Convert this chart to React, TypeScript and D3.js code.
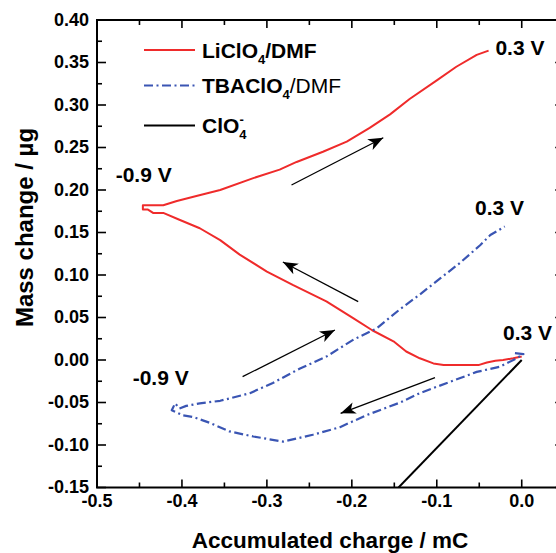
import React from 'react';
import * as d3 from 'd3';

// LiClO4/DMF (red) — charge (mC) and mass change (µg)
const redCharge = [0.000, -0.010, -0.022, -0.031, -0.041, -0.051, -0.092, -0.104, -0.120, -0.136, -0.151, -0.176, -0.198, -0.230, -0.269, -0.300, -0.332, -0.355, -0.379, -0.403, -0.422, -0.434, -0.440, -0.446, -0.446, -0.422, -0.406, -0.383, -0.355, -0.316, -0.285, -0.265, -0.234, -0.206, -0.179, -0.155, -0.132, -0.100, -0.077, -0.053, -0.039];
const redMass = [0.004, 0.002, 0.000, -0.001, -0.003, -0.006, -0.006, -0.004, 0.002, 0.010, 0.022, 0.035, 0.049, 0.069, 0.088, 0.104, 0.124, 0.141, 0.155, 0.165, 0.173, 0.173, 0.177, 0.177, 0.182, 0.182, 0.187, 0.193, 0.200, 0.214, 0.224, 0.233, 0.245, 0.257, 0.273, 0.289, 0.307, 0.329, 0.345, 0.359, 0.364];

// TBAClO4/DMF (blue dash-dot)
const blueCharge = [-0.008, 0.002, -0.008, -0.026, -0.053, -0.088, -0.120, -0.143, -0.183, -0.214, -0.246, -0.281, -0.316, -0.344, -0.367, -0.387, -0.399, -0.412, -0.408, -0.403, -0.395, -0.379, -0.355, -0.320, -0.293, -0.261, -0.230, -0.198, -0.171, -0.143, -0.120, -0.096, -0.073, -0.049, -0.037, -0.020];
const blueMass = [0.008, 0.007, 0.001, -0.008, -0.014, -0.027, -0.039, -0.050, -0.065, -0.079, -0.088, -0.096, -0.090, -0.084, -0.074, -0.067, -0.065, -0.059, -0.051, -0.057, -0.054, -0.051, -0.048, -0.039, -0.027, -0.010, 0.004, 0.024, 0.037, 0.060, 0.077, 0.096, 0.114, 0.135, 0.147, 0.157];

// ClO4- (black)
const clo4Charge = [0.0, -0.145];
const clo4Mass = [0.0, -0.15];

const xTicks = [-0.5, -0.4, -0.3, -0.2, -0.1, 0.0];
const yTicks = [-0.15, -0.10, -0.05, 0.00, 0.05, 0.10, 0.15, 0.20, 0.25, 0.30, 0.35, 0.40];

const potentialText = ['0.3 V', '0.3 V', '0.3 V', '-0.9 V', '-0.9 V'];
const potentialX = [-0.031, -0.055, -0.022, -0.478, -0.458];
const potentialY = [0.359, 0.171, 0.0235, 0.2094, -0.0294];

const arrowX1 = [-0.271, -0.1925, -0.3286, -0.1021];
const arrowY1 = [0.2059, 0.0686, -0.0196, -0.0208];
const arrowX2 = [-0.163, -0.2812, -0.2199, -0.2132];
const arrowY2 = [0.2615, 0.1153, 0.0353, -0.0627];

const W = 556;
const H = 553;
const FONT = '"Liberation Sans", Arial, sans-serif';
const RED = '#ef2b2b';
const BLUE = '#3a55b3';

export default function App() {
  const x = d3.scaleLinear().domain([-0.5, 0.05]).range([97, 564.2]);
  const y = d3.scaleLinear().domain([-0.15, 0.40]).range([487.5, 20]);

  const line = d3.line<[number, number]>().x(d => x(d[0])).y(d => y(d[1]));
  const redPath = line(redCharge.map((c, i) => [c, redMass[i]]) as [number, number][]) || '';
  const bluePath = line(blueCharge.map((c, i) => [c, blueMass[i]]) as [number, number][]) || '';
  const blackPath = line(clo4Charge.map((c, i) => [c, clo4Mass[i]]) as [number, number][]) || '';

  const xMinor = d3.range(-0.5, 0.0501, 0.05);
  const yMinor = d3.range(-0.15, 0.401, 0.025);
  const isMajor = (v: number, step: number) => Math.abs(v / step - Math.round(v / step)) < 1e-6;

  const x0 = x(-0.5), x1 = x(0.05), y0 = y(-0.15), y1 = y(0.40);

  return (
    <svg width={W} height={H} style={{ position: 'absolute', left: 0, top: 0, background: '#fff' }} fontFamily={FONT}>
      <defs>
        <clipPath id="plot">
          <rect x={x0} y={y1} width={x1 - x0} height={y0 - y1} />
        </clipPath>
        <marker id="arrow" markerUnits="userSpaceOnUse" markerWidth={18} markerHeight={14} refX={15} refY={6} orient="auto">
          <path d="M0,0 L15,6 L0,12 L4,6 Z" fill="#000" />
        </marker>
      </defs>

      {/* minor/major ticks */}
      {xMinor.map((v, i) => {
        const len = isMajor(v, 0.1) ? 8 : 5;
        return (
          <g key={'xt' + i} stroke="#000" strokeWidth={1.6}>
            <line x1={x(v)} x2={x(v)} y1={y0} y2={y0 - len} />
            <line x1={x(v)} x2={x(v)} y1={y1} y2={y1 + len} />
          </g>
        );
      })}
      {yMinor.map((v, i) => {
        const len = isMajor(v, 0.05) ? 9 : 5;
        return (
          <g key={'yt' + i} stroke="#000" strokeWidth={1.6}>
            <line x1={x0} x2={x0 + len} y1={y(v)} y2={y(v)} />
            <line x1={x1} x2={x1 - len} y1={y(v)} y2={y(v)} />
          </g>
        );
      })}

      {/* frame */}
      <rect x={x0} y={y1} width={x1 - x0} height={y0 - y1} fill="none" stroke="#000" strokeWidth={2} />

      {/* tick labels */}
      {xTicks.map((v, i) => (
        <text key={'xl' + i} x={x(v)} y={507} textAnchor="middle" fontSize={18} fontWeight="bold">
          {d3.format('.1f')(v).replace('−', '-')}
        </text>
      ))}
      {yTicks.map((v, i) => (
        <text key={'yl' + i} x={89} y={y(v)} dy="0.33em" textAnchor="end" fontSize={18} fontWeight="bold">
          {d3.format('.2f')(v).replace('−', '-')}
        </text>
      ))}

      {/* axis titles */}
      <text x={330} y={548} textAnchor="middle" fontSize={22.5} fontWeight="bold">Accumulated charge / mC</text>
      <text transform="translate(33,227.5) rotate(-90)" textAnchor="middle" fontSize={24} fontWeight="bold">Mass change / µg</text>

      {/* data */}
      <g clipPath="url(#plot)" fill="none" strokeLinejoin="round">
        <path d={blackPath} stroke="#000" strokeWidth={2} />
        <path d={redPath} stroke={RED} strokeWidth={2} />
        <path d={bluePath} stroke={BLUE} strokeWidth={2.2} strokeDasharray="9,3.5,2,3.5" />
      </g>

      {/* arrows */}
      {arrowX1.map((v, i) => (
        <line key={'ar' + i} x1={x(v)} y1={y(arrowY1[i])} x2={x(arrowX2[i])} y2={y(arrowY2[i])} stroke="#000" strokeWidth={1.3} markerEnd="url(#arrow)" />
      ))}

      {/* potential labels */}
      {potentialText.map((t, i) => (
        <text key={'pl' + i} x={x(potentialX[i])} y={y(potentialY[i])} fontSize={21} fontWeight="bold">{t}</text>
      ))}

      {/* legend */}
      <g fontSize={21} fontWeight="bold">
        <line x1={144} x2={195} y1={50} y2={50} stroke={RED} strokeWidth={2} />
        <text x={202} y={57.5}>LiClO<tspan fontSize={13} dy={6}>4</tspan><tspan dy={-6}>/DMF</tspan></text>
        <line x1={144} x2={195} y1={85.5} y2={85.5} stroke={BLUE} strokeWidth={2.2} strokeDasharray="9,3.5,2,3.5" />
        <text x={202} y={93}>TBAClO<tspan fontSize={13} dy={6}>4</tspan><tspan dy={-6} fontWeight="normal">/DMF</tspan></text>
        <line x1={144} x2={195} y1={125.5} y2={125.5} stroke="#000" strokeWidth={2} />
        <text x={202} y={133}>ClO<tspan fontSize={13} dy={6}>4</tspan><tspan fontSize={13} dx={-7} dy={-15}>-</tspan></text>
      </g>
    </svg>
  );
}
